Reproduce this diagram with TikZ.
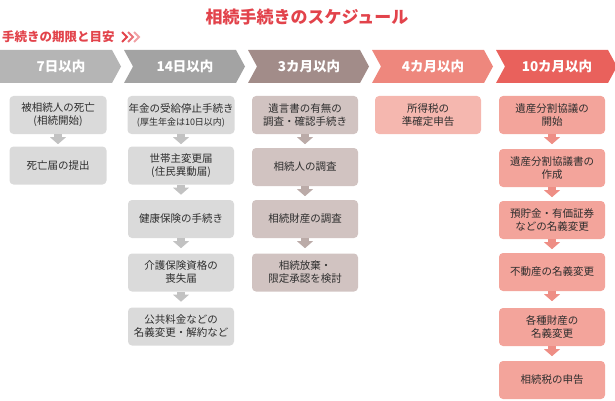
\documentclass[tikz,border=0pt]{standalone}
\usetikzlibrary{calc}
\usepackage{fontspec}
\setmainfont{Noto Sans CJK JP}
\definecolor{tred}{HTML}{E2434B}
\definecolor{ch1}{HTML}{B5B5B5}\definecolor{ch2}{HTML}{A3A3A3}\definecolor{ch3}{HTML}{A28C89}
\definecolor{ch4}{HTML}{EE877D}\definecolor{ch5}{HTML}{E9615C}
\definecolor{bx1}{HTML}{DADADA}\definecolor{bx3}{HTML}{D1C3C1}\definecolor{bx4}{HTML}{F5B7AF}\definecolor{bx5}{HTML}{F3A49B}
\definecolor{ar1}{HTML}{C2C2C2}\definecolor{ar3}{HTML}{BBABA8}\definecolor{ar5}{HTML}{EE8E85}
\definecolor{txt}{HTML}{2E2E2E}
\begin{document}
\begin{tikzpicture}[x=1pt,y=-1pt,
  box/.style={rounded corners=4pt,minimum width=106pt,minimum height=38pt,align=center,font=\fontsize{10.5}{13}\selectfont,text=txt,inner sep=1pt},
  chev/.style={font=\fontsize{13.5}{14}\selectfont\bfseries,text=white}]
\useasboundingbox (0,0) rectangle (615,401);
\node[text=tred,font=\fontsize{17}{18}\selectfont\bfseries] (title) at (307,17) {相続手続きのスケジュール};
\node[text=tred,font=\fontsize{12.5}{13}\selectfont\bfseries,anchor=west,inner sep=0] (sub) at (2,37) {手続きの期限と目安};
\coordinate (s0) at (122,37);
\foreach \k in {0,1,2}
  \draw[tred,line width=2pt,opacity=1-0.25*\k] ($(s0)+(\k*6,-5)$) -- ($(s0)+(\k*6+5,0)$) -- ($(s0)+(\k*6,5)$);
% chevrons
\foreach \i/\c/\t in {0/ch1/7日以内,1/ch2/14日以内,2/ch3/3カ月以内,3/ch4/4カ月以内,4/ch5/10カ月以内}{
  \pgfmathsetmacro\L{\i*124}
  \ifnum\i=0
    \fill[\c] (0,50) -- (\L+112,50) -- (\L+121,66.5) -- (\L+112,83) -- (0,83) -- cycle;
  \else
    \fill[\c] (\L,50) -- (\L+112,50) -- (\L+121,66.5) -- (\L+112,83) -- (\L,83) -- (\L+9,66.5) -- cycle;
  \fi
  \node[chev] (h\i) at (\L+61,66.5) {\t};
}
% column 1
\node[box,fill=bx1,minimum width=97pt] (a1) at (58,115) {被相続人の死亡\\(相続開始)};
\node[box,fill=bx1,minimum width=97pt] (a2) at (58,165.5) {死亡届の提出};
% column 2
\node[box,fill=bx1] (b1) at (181,115) {年金の受給停止手続き\\{\fontsize{9}{10}\selectfont(厚生年金は10日以内)}};
\node[box,fill=bx1] (b2) at (181,165.5) {世帯主変更届\\(住民異動届)};
\node[box,fill=bx1] (b3) at (181,219) {健康保険の手続き};
\node[box,fill=bx1] (b4) at (181,272.5) {介護保険資格の\\喪失届};
\node[box,fill=bx1] (b5) at (181,326.5) {公共料金などの\\名義変更・解約など};
% column 3
\node[box,fill=bx3] (c1) at (305,115) {遺言書の有無の\\調査・確認手続き};
\node[box,fill=bx3] (c2) at (305,167) {相続人の調査};
\node[box,fill=bx3] (c3) at (305,219) {相続財産の調査};
\node[box,fill=bx3] (c4) at (305,272.5) {相続放棄・\\限定承認を検討};
% column 4
\node[box,fill=bx4] (d1) at (428,115) {所得税の\\準確定申告};
% column 5
\node[box,fill=bx5] (e1) at (552,115) {遺産分割協議の\\開始};
\node[box,fill=bx5] (e2) at (552,168) {遺産分割協議書の\\作成};
\node[box,fill=bx5] (e3) at (552,220) {預貯金・有価証券\\などの名義変更};
\node[box,fill=bx5] (e4) at (552,272) {不動産の名義変更};
\node[box,fill=bx5] (e5) at (552,327) {各種財産の\\名義変更};
\node[box,fill=bx5] (e6) at (552,380) {相続税の申告};
% arrows
\foreach \u/\v/\c in {a1/a2/ar1,b1/b2/ar1,b2/b3/ar1,b3/b4/ar1,b4/b5/ar1,c1/c2/ar3,c2/c3/ar3,c3/c4/ar3,e1/e2/ar5,e2/e3/ar5,e3/e4/ar5,e4/e5/ar5,e5/e6/ar5}{
  \fill[\c] ($(\u.south)+(-4,0)$) rectangle ($(\u.south)+(4,3)$);
  \fill[\c] ($(\u.south)+(-8,3)$) -- ($(\u.south)+(8,3)$) -- ($(\u.south)+(0,10)$) -- cycle;
}
\end{tikzpicture}
\end{document}
